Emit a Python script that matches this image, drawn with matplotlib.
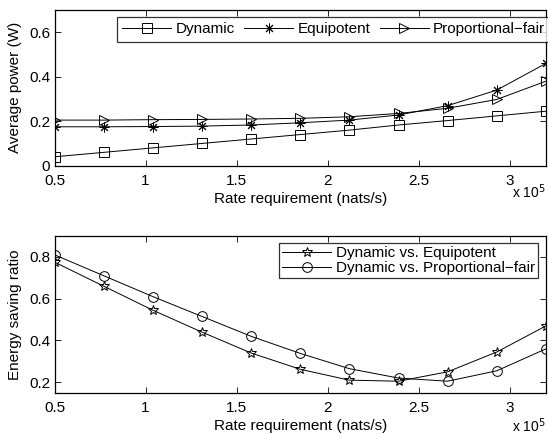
import matplotlib.pyplot as plt
import numpy as np

plt.rcParams['font.family'] = ['Liberation Sans', 'DejaVu Sans']
plt.rcParams['font.size'] = 9

# Rate requirement (x 10^5 nats/s)
rate = [0.5, 0.77, 1.04, 1.31, 1.58, 1.85, 2.12, 2.39, 2.66, 2.93, 3.2]

# Average power (W)
p_dyn = [0.04, 0.06, 0.08, 0.10, 0.12, 0.14, 0.16, 0.183, 0.203, 0.224, 0.245]
p_equi = [0.175, 0.175, 0.176, 0.178, 0.183, 0.193, 0.205, 0.228, 0.27, 0.34, 0.46]
p_pf = [0.205, 0.205, 0.207, 0.208, 0.21, 0.213, 0.22, 0.235, 0.258, 0.298, 0.38]

# Energy saving ratio
s_equi = [0.775, 0.66, 0.545, 0.44, 0.34, 0.262, 0.21, 0.205, 0.25, 0.345, 0.47]
s_pf = [0.81, 0.71, 0.61, 0.515, 0.42, 0.338, 0.265, 0.22, 0.205, 0.255, 0.36]

W, H = 548, 434
fig = plt.figure(figsize=(W / 100, H / 100), dpi=100)

def px_axes(l, t, r, b):
    return fig.add_axes([l / W, 1 - b / H, (r - l) / W, (b - t) / H])

def style(ax):
    ax.tick_params(direction='in', top=True, right=True, length=4, width=0.6, labelsize=11)
    ax.tick_params(axis='x', pad=6)
    ax.tick_params(axis='y', pad=3)
    for s in ax.spines.values():
        s.set_linewidth(0.9)
    ax.set_xlim(0.5, 3.2)
    ax.set_xticks([0.5, 1, 1.5, 2, 2.5, 3])
    ax.set_xticklabels(['0.5', '1', '1.5', '2', '2.5', '3'])
    ax.set_xlabel('Rate requirement (nats/s)', fontsize=11, labelpad=3)

kw = dict(color='black', linewidth=0.7, markersize=7, markerfacecolor='none',
          markeredgewidth=0.7)

# top panel
ax1 = px_axes(54.5, 10, 546, 165.7)
ax1.plot(rate, p_dyn, marker='s', label='Dynamic', **kw)
ax1.plot(rate, p_equi, marker=(8, 2, 0), label='Equipotent', **kw)
ax1.plot(rate, p_pf, marker='>', label='Proportional\u2212fair', **kw)
ax1.set_ylim(0, 0.7)
ax1.set_yticks([0, 0.2, 0.4, 0.6])
ax1.set_yticklabels(['0', '0.2', '0.4', '0.6'])
ax1.set_ylabel('Average power (W)', fontsize=11, labelpad=5)
style(ax1)
leg1 = ax1.legend(loc='upper left', bbox_to_anchor=(0.127, 0.955), ncol=3, fontsize=11,
                  frameon=True, fancybox=False, edgecolor='black', handlelength=3.2,
                  columnspacing=0.6, handletextpad=0.3, borderpad=0.35, borderaxespad=0)
leg1.get_frame().set_linewidth(0.9)
fig.text(546 / W, 1 - 192 / H, r'x 10$^5$', fontsize=10, va='center', ha='right')

# bottom panel
ax2 = px_axes(54.5, 236, 546, 392.7)
ax2.plot(rate, s_equi, marker='*', label='Dynamic vs. Equipotent', **kw)
ax2.plot(rate, s_pf, marker='o', label='Dynamic vs. Proportional\u2212fair', **kw)
ax2.set_ylim(0.15, 0.9)
ax2.set_yticks([0.2, 0.4, 0.6, 0.8])
ax2.set_yticklabels(['0.2', '0.4', '0.6', '0.8'])
ax2.set_ylabel('Energy saving ratio', fontsize=11, labelpad=5)
style(ax2)
leg2 = ax2.legend(loc='upper right', bbox_to_anchor=(0.9835, 0.955), fontsize=11,
                  frameon=True, fancybox=False, edgecolor='black', handlelength=3.2,
                  handletextpad=0.3, borderpad=0.2, labelspacing=0.05, borderaxespad=0)
leg2.get_frame().set_linewidth(0.9)
fig.text(546 / W, 1 - 426 / H, r'x 10$^5$', fontsize=10, va='center', ha='right')

fig.savefig('out.png', dpi=100)
